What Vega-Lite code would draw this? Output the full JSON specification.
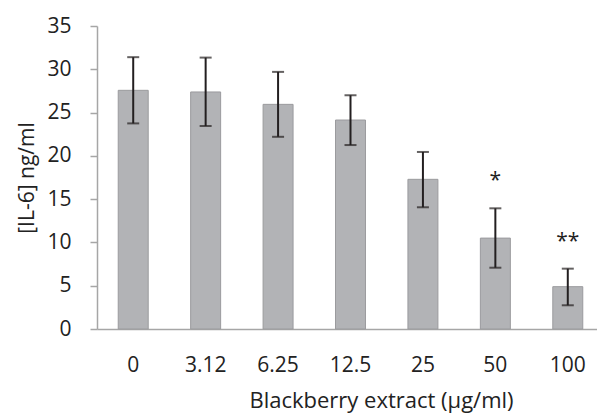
{
  "$schema": "https://vega.github.io/schema/vega-lite/v6.json",
  "autosize": "none",
  "padding": {"left": 97, "top": 26, "right": 0, "bottom": 85},
  "width": 507,
  "height": 303,
  "background": "white",
  "config": {"view": {"stroke": null}, "font": "Open Sans"},
  "data": {"values": [
    {"dose": "0", "mean": 27.57, "lo": 23.75, "hi": 31.4, "sig": ""},
    {"dose": "3.12", "mean": 27.38, "lo": 23.45, "hi": 31.35, "sig": ""},
    {"dose": "6.25", "mean": 25.95, "lo": 22.2, "hi": 29.7, "sig": ""},
    {"dose": "12.5", "mean": 24.14, "lo": 21.25, "hi": 27.0, "sig": ""},
    {"dose": "25", "mean": 17.29, "lo": 14.06, "hi": 20.45, "sig": ""},
    {"dose": "50", "mean": 10.5, "lo": 7.08, "hi": 13.94, "sig": "*"},
    {"dose": "100", "mean": 4.89, "lo": 2.74, "hi": 6.97, "sig": "**"}
  ]},
  "encoding": {
    "x": {
      "field": "dose", "type": "nominal", "sort": null,
      "scale": {"paddingInner": 0.586, "paddingOuter": 0.293},
      "axis": {
        "title": "Blackberry extract (μg/ml)", "labelAngle": 0,
        "labelFontSize": 21, "titleFontSize": 22, "titleFontWeight": "normal",
        "labelColor": "#222", "titleColor": "#222",
        "domainColor": "#a6a6a6", "domainWidth": 1.5, "ticks": false,
        "labelPadding": 25, "titlePadding": 15, "titleX": 284
      }
    }
  },
  "layer": [
    {
      "mark": {"type": "bar", "fill": "#b2b3b6", "stroke": "#9b9b9e", "strokeWidth": 1},
      "encoding": {
        "y": {
          "field": "mean", "type": "quantitative",
          "scale": {"domain": [0, 35]},
          "axis": {
            "title": "[IL-6] ng/ml", "values": [0, 5, 10, 15, 20, 25, 30, 35],
            "grid": false, "labelFontSize": 21, "titleFontSize": 21, "titleFontWeight": "normal",
            "labelColor": "#222", "titleColor": "#222",
            "domainColor": "#a6a6a6", "domainWidth": 1.5, "tickColor": "#a6a6a6", "tickSize": 7, "tickWidth": 1.5,
            "labelPadding": 19, "titlePadding": 9
          }
        }
      }
    },
    {
      "mark": {"type": "rule", "color": "#231f20", "strokeWidth": 2},
      "encoding": {"y": {"field": "lo", "type": "quantitative"}, "y2": {"field": "hi"}}
    },
    {
      "mark": {"type": "tick", "color": "#231f20", "thickness": 2, "size": 12, "orient": "horizontal"},
      "encoding": {"y": {"field": "lo", "type": "quantitative"}}
    },
    {
      "mark": {"type": "tick", "color": "#231f20", "thickness": 2, "size": 12, "orient": "horizontal"},
      "encoding": {"y": {"field": "hi", "type": "quantitative"}}
    },
    {
      "mark": {"type": "text", "fontSize": 21, "color": "#222", "baseline": "alphabetic"},
      "encoding": {
        "y": {"field": "hi", "type": "quantitative"},
        "yOffset": {"value": -21},
        "text": {"field": "sig"}
      }
    }
  ]
}
